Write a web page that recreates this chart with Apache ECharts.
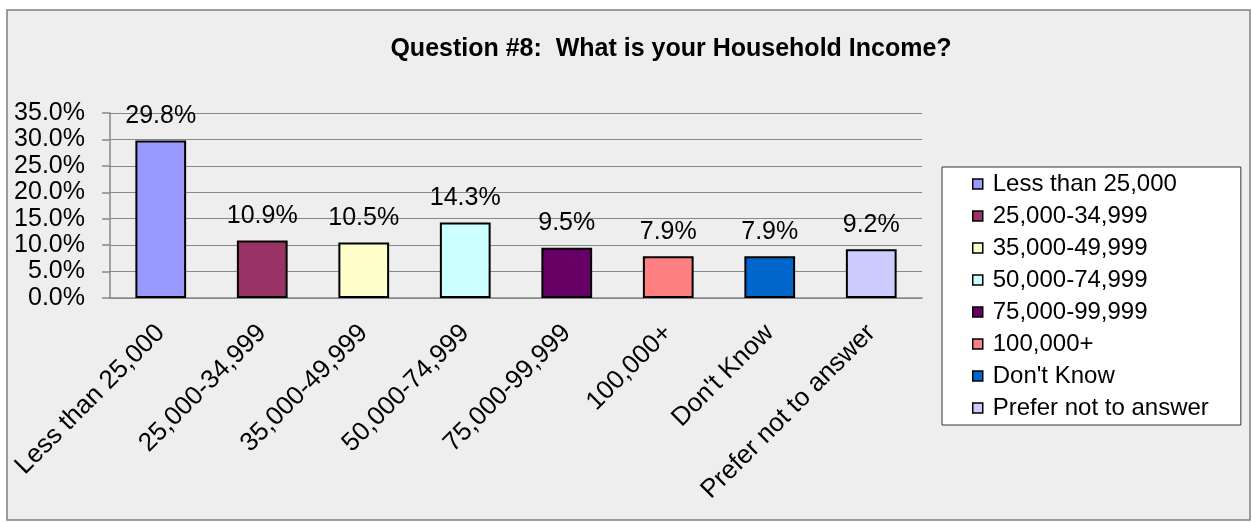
<!DOCTYPE html>
<html>
<head>
<meta charset="utf-8">
<style>
html,body{margin:0;padding:0;background:#fff;}
#chart{width:1252px;height:523px;}
</style>
<script src="https://cdn.jsdelivr.net/npm/echarts@6/dist/echarts.min.js"></script>
</head>
<body>
<div id="chart"></div>
<script>
const categories = ["Less than 25,000","25,000-34,999","35,000-49,999","50,000-74,999","75,000-99,999","100,000+","Don't Know","Prefer not to answer"];
const values = [29.8, 10.9, 10.5, 14.3, 9.5, 7.9, 7.9, 9.2];
const colors = ["#9999FF","#993366","#FFFFCC","#CCFFFF","#660066","#FF8080","#0066CC","#CCCCFF"];
const yTicks = {min: 0, max: 35, interval: 5};
const titleText = "Question #8:  What is your Household Income?";

const FONT = '"Liberation Sans", Arial, sans-serif';
const chart = echarts.init(document.getElementById('chart'), null, {renderer: 'canvas'});

const series = categories.map((name, i) => ({
  name: name,
  type: 'bar',
  stack: 'all',
  barWidth: '50%',
  data: values.map((v, j) => (j === i ? v : null)),
  itemStyle: {color: colors[i], borderColor: '#000', borderWidth: 2},
  label: {
    show: true, position: 'top', distance: 12,
    fontFamily: FONT, fontSize: 25, color: '#000',
    formatter: p => p.value.toFixed(1) + '%'
  },
  emphasis: {disabled: true},
  animation: false
}));

chart.setOption({
  animation: false,
  backgroundColor: 'transparent',
  graphic: [{
    type: 'rect', z: -10, silent: true,
    shape: {x: 7, y: 10, width: 1243, height: 510},
    style: {fill: '#EEEEEE', stroke: '#7f7f7f', lineWidth: 1.5}
  }],
  title: {
    text: titleText,
    left: 666, top: 32, textAlign: 'center',
    textStyle: {fontFamily: FONT, fontSize: 25, fontWeight: 'bold', color: '#000'}
  },
  legend: {
    orient: 'vertical',
    left: 942, top: 167,
    padding: [5, 32, 5, 30],
    itemGap: 8,
    itemWidth: 20, itemHeight: 10,
    icon: 'path://M0,0H10V10H0Z',
    backgroundColor: '#FFFFFF',
    borderColor: '#333', borderWidth: 1,
    textStyle: {fontFamily: FONT, fontSize: 24, color: '#000', lineHeight: 24},
    itemStyle: {borderColor: '#000', borderWidth: 1.5},
    data: categories
  },
  grid: {left: 110, right: 330, top: 113, bottom: 225, containLabel: false},
  xAxis: {
    type: 'category',
    data: categories,
    axisLine: {lineStyle: {color: '#888', width: 1.5}},
    axisTick: {length: 7, lineStyle: {color: '#888', width: 1.5}},
    axisLabel: {rotate: 45, margin: 31, interval: 0, fontFamily: FONT, fontSize: 26, color: '#000'}
  },
  yAxis: {
    type: 'value',
    min: yTicks.min, max: yTicks.max, interval: yTicks.interval,
    axisLine: {show: true, lineStyle: {color: '#888', width: 1.5}},
    axisTick: {show: true, length: 8, lineStyle: {color: '#888', width: 1.5}},
    splitLine: {lineStyle: {color: '#888', width: 1}},
    axisLabel: {margin: 25, fontFamily: FONT, fontSize: 25, color: '#000',
      formatter: v => v.toFixed(1) + '%'}
  },
  series: series
});
</script>
</body>
</html>
